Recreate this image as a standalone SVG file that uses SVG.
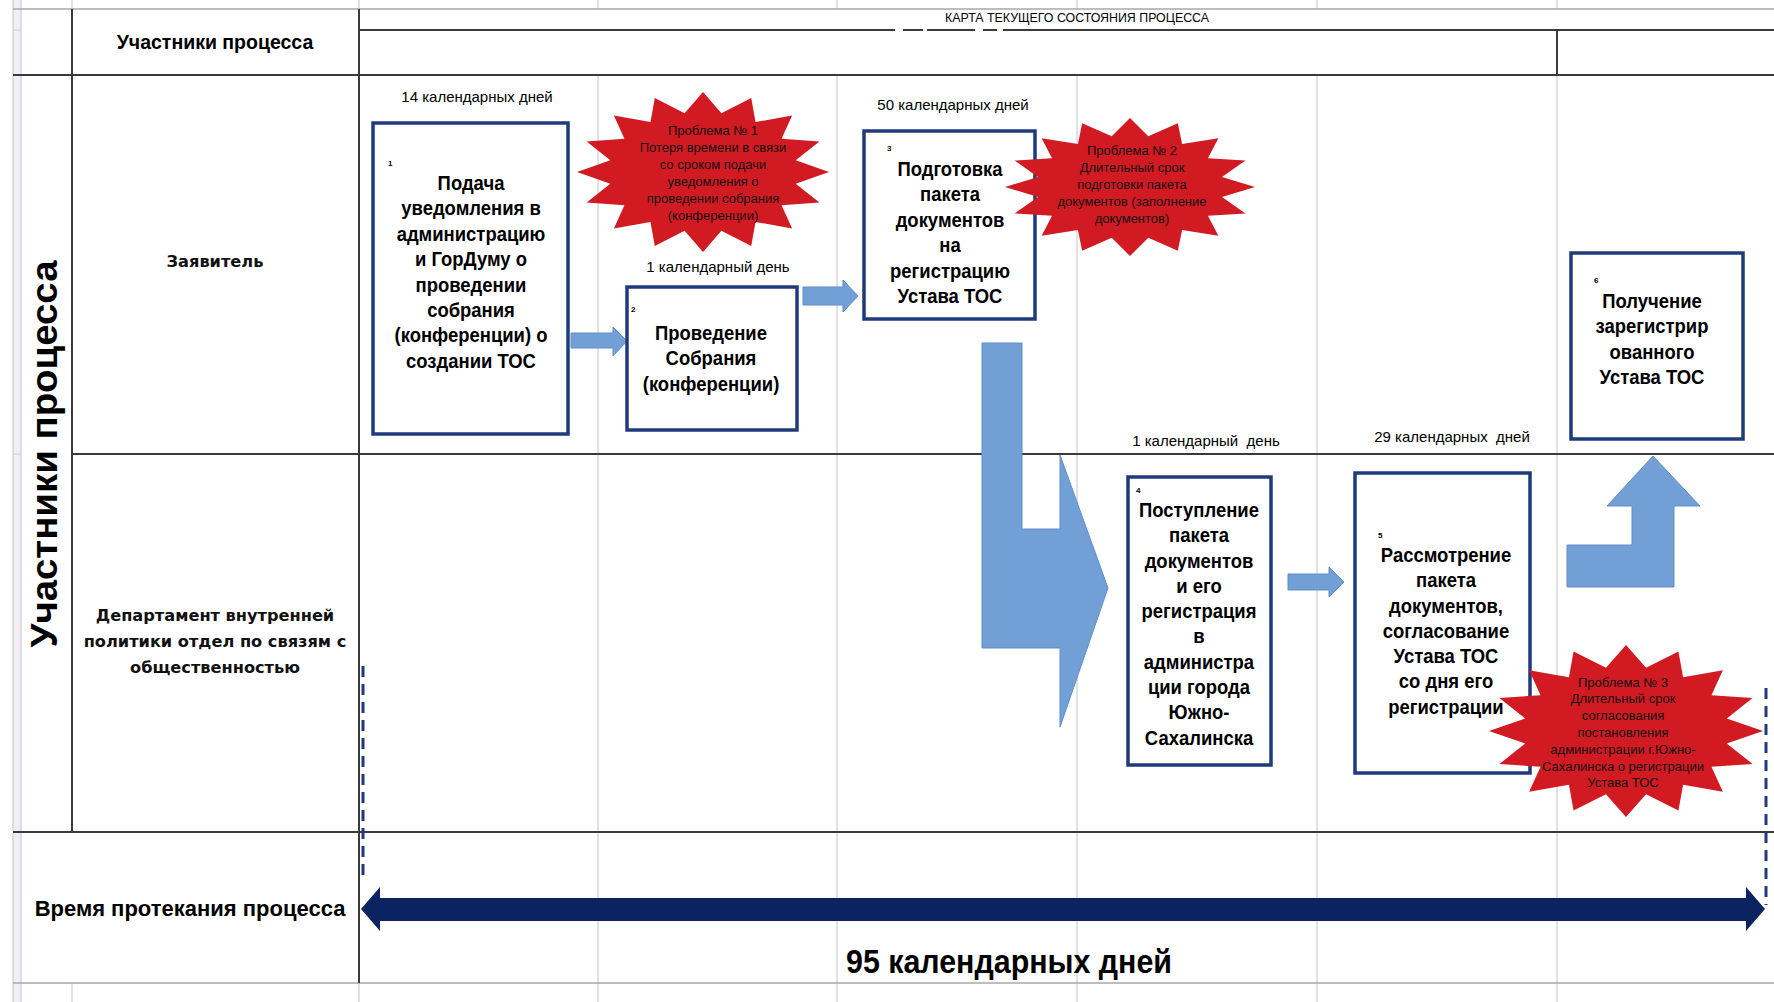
<svg xmlns="http://www.w3.org/2000/svg" width="1774" height="1002" viewBox="0 0 1774 1002">
<style>
.grid{stroke:#cdcdcd;stroke-width:1.2;fill:none}
.mid{stroke:#a8a8a8;stroke-width:1.5;fill:none}
.dark{stroke:#3a3a3a;stroke-width:2;fill:none}
.box{fill:#fff;stroke:#1f3b7c;stroke-width:3.5}
.bt{font-family:"Liberation Sans",Arial,sans-serif;font-weight:bold;font-size:20.5px;text-anchor:middle;fill:#000}
.num{font-family:"Liberation Sans",Arial,sans-serif;font-weight:bold;font-size:8px;fill:#000}
.day{font-family:"Liberation Sans",Arial,sans-serif;font-size:15px;text-anchor:middle;fill:#000}
.star{fill:#d11a22}
.st{font-family:"Liberation Sans",Arial,sans-serif;font-size:13px;text-anchor:middle;fill:#111}
.blk{fill:#72a0d6;stroke:#5e8fca;stroke-width:1}
.lane{font-family:"DejaVu Sans",Verdana,sans-serif;font-weight:bold;font-size:16.2px;text-anchor:middle;fill:#111}
.hdr{font-family:"Liberation Sans",Arial,sans-serif;font-weight:bold;text-anchor:middle;fill:#000}
.dash{stroke:#1f3b7c;stroke-width:3;stroke-dasharray:11 7;fill:none}
</style>
<defs>
<polygon id="star16" points="0,-100 14.63,-73.56 38.27,-92.39 41.67,-62.36 70.71,-70.71 62.36,-41.67 92.39,-38.27 73.56,-14.63 100,0 73.56,14.63 92.39,38.27 62.36,41.67 70.71,70.71 41.67,62.36 38.27,92.39 14.63,73.56 0,100 -14.63,73.56 -38.27,92.39 -41.67,62.36 -70.71,70.71 -62.36,41.67 -92.39,38.27 -73.56,14.63 -100,0 -73.56,-14.63 -92.39,-38.27 -62.36,-41.67 -70.71,-70.71 -41.67,-62.36 -38.27,-92.39 -14.63,-73.56"/>
</defs>
<rect width="1774" height="1002" fill="#fff"/>
<g id="grid">
<rect x="13" y="0" width="8" height="1002" fill="#f1eff5"/>
<path class="grid" d="M13 0V1002M21 0V1002M598 0V9M837 0V9M1077 0V9M1317 0V9M1557 0V9M598 75V1002M837 75V1002M1077 75V1002M1317 75V1002M1557 75V1002M72 0V9M72 983V1002M359 0V9M359 983V1002M13 30H21M13 454H21"/>
<path class="mid" d="M13 9H1774M13 983H1774"/>
<path class="dark" d="M72 9V832M359 9V983M1557 30V75M13 75H1774M72 454H1774M13 832H1774"/>
<path class="dark" d="M359 30H895M903 30H923M927 30H975M983 30H997M1003 30H1774"/>
<text class="hdr" x="215" y="49" font-size="19.5">Участники процесса</text>
<text font-family="Liberation Sans, Arial, sans-serif" font-size="12.5" x="945" y="22" textLength="264" lengthAdjust="spacingAndGlyphs">КАРТА ТЕКУЩЕГО СОСТОЯНИЯ ПРОЦЕССА</text>
<text class="hdr" font-size="36" transform="translate(57,454) rotate(-90)" textLength="387" lengthAdjust="spacingAndGlyphs">Участники процесса</text>
<text class="lane" x="215" y="267">Заявитель</text>
<text class="lane"><tspan x="215" y="620.5">Департамент внутренней</tspan><tspan x="215" y="647">политики отдел по связям с</tspan><tspan x="215" y="673">общественностью</tspan></text>
<text class="hdr" x="190" y="916" font-size="22">Время протекания процесса</text>
<text class="hdr" x="1009" y="973" font-size="34" textLength="326" lengthAdjust="spacingAndGlyphs">95 календарных дней</text>
</g>
<g id="timeline">
<path class="dash" d="M363 666V878M1766 688V905"/>
<polygon fill="#0b2461" points="361,909 380,887 380,898 1746,898 1746,887 1765,909 1746,931 1746,921 380,921 380,931"/>
</g>
<g id="connectors">
<polygon class="blk" points="571,333 613,333 613,327 627,341 613,356 613,348 571,348"/>
<polygon class="blk" points="803,287 843,287 843,280 858,296 843,312 843,305 803,305"/>
<polygon class="blk" points="982,343 1022,343 1022,529 1060,529 1060,455 1108,588 1060,727 1060,648 982,648"/>
<polygon class="blk" points="1288,574 1329,574 1329,567 1344,582 1329,597 1329,590 1288,590"/>
<polygon class="blk" points="1567,545 1632,545 1632,506 1607,506 1653,456 1700,506 1674,506 1674,587 1567,587"/>
</g>
<g id="labels">
<text class="day" x="477" y="102">14 календарных дней</text>
<text class="day" x="718" y="272">1 календарный день</text>
<text class="day" x="953" y="110">50 календарных дней</text>
<text class="day" x="1206" y="446" xml:space="preserve">1 календарный  день</text>
<text class="day" x="1452" y="442" xml:space="preserve">29 календарных  дней</text>
</g>
<g id="node1">
<rect class="box" x="373" y="123" width="195" height="311"/>
<text class="num" x="388" y="166">1</text>
<text class="bt" transform="translate(471,0) scale(0.9,1)"><tspan x="0" y="190">Подача</tspan><tspan x="0" y="215.4">уведомления в</tspan><tspan x="0" y="240.8">администрацию</tspan><tspan x="0" y="266.2">и ГорДуму о</tspan><tspan x="0" y="291.6">проведении</tspan><tspan x="0" y="317">собрания</tspan><tspan x="0" y="342.4">(конференции) о</tspan><tspan x="0" y="367.8">создании ТОС</tspan></text>
</g>
<g id="node2">
<rect class="box" x="627" y="287" width="170" height="143"/>
<text class="num" x="631" y="312">2</text>
<text class="bt" transform="translate(711,0) scale(0.9,1)"><tspan x="0" y="340">Проведение</tspan><tspan x="0" y="365.4">Собрания</tspan><tspan x="0" y="390.8">(конференции)</tspan></text>
</g>
<g id="node3">
<rect class="box" x="864" y="131" width="171" height="188"/>
<text class="num" x="887" y="151">3</text>
<text class="bt" transform="translate(950,0) scale(0.9,1)"><tspan x="0" y="176">Подготовка</tspan><tspan x="0" y="201.4">пакета</tspan><tspan x="0" y="226.8">документов</tspan><tspan x="0" y="252.2">на</tspan><tspan x="0" y="277.6">регистрацию</tspan><tspan x="0" y="303">Устава ТОС</tspan></text>
</g>
<g id="node4">
<rect class="box" x="1128" y="477" width="143" height="288"/>
<text class="num" x="1136" y="493">4</text>
<text class="bt" transform="translate(1199,0) scale(0.9,1)"><tspan x="0" y="517">Поступление</tspan><tspan x="0" y="542.3">пакета</tspan><tspan x="0" y="567.6">документов</tspan><tspan x="0" y="592.9">и его</tspan><tspan x="0" y="618.2">регистрация</tspan><tspan x="0" y="643.5">в</tspan><tspan x="0" y="668.8">администра</tspan><tspan x="0" y="694.1">ции города</tspan><tspan x="0" y="719.4">Южно-</tspan><tspan x="0" y="744.7">Сахалинска</tspan></text>
</g>
<g id="node5">
<rect class="box" x="1355" y="473" width="175" height="300"/>
<text class="num" x="1378" y="538">5</text>
<text class="bt" transform="translate(1446,0) scale(0.9,1)"><tspan x="0" y="562">Рассмотрение</tspan><tspan x="0" y="587.3">пакета</tspan><tspan x="0" y="612.6">документов,</tspan><tspan x="0" y="637.9">согласование</tspan><tspan x="0" y="663.2">Устава ТОС</tspan><tspan x="0" y="688.5">со дня его</tspan><tspan x="0" y="713.8">регистрации</tspan></text>
</g>
<g id="node6">
<rect class="box" x="1571" y="253" width="172" height="186"/>
<text class="num" x="1594" y="283">6</text>
<text class="bt" transform="translate(1652,0) scale(0.9,1)"><tspan x="0" y="308">Получение</tspan><tspan x="0" y="333.3">зарегистрир</tspan><tspan x="0" y="358.6">ованного</tspan><tspan x="0" y="383.9">Устава ТОС</tspan></text>
</g>
<g id="problem1">
<use href="#star16" class="star" transform="translate(703,172) scale(1.26,0.80)"/>
<text class="st"><tspan x="713" y="134.5">Проблема № 1</tspan><tspan x="713" y="151.5">Потеря времени в связи</tspan><tspan x="713" y="168.5">со сроком подачи</tspan><tspan x="713" y="185.5">уведомления о</tspan><tspan x="713" y="202.5">проведении собрания</tspan><tspan x="713" y="219.5">(конференции)</tspan></text>
</g>
<g id="problem2">
<use href="#star16" class="star" transform="translate(1130,187) scale(1.25,0.69)"/>
<text class="st"><tspan x="1132" y="154.5">Проблема № 2</tspan><tspan x="1132" y="171.5">Длительный срок</tspan><tspan x="1132" y="188.5">подготовки пакета</tspan><tspan x="1132" y="205.5">документов (заполнение</tspan><tspan x="1132" y="222.5">документов)</tspan></text>
</g>
<g id="problem3">
<use href="#star16" class="star" transform="translate(1626,731) scale(1.37,0.86)"/>
<text class="st"><tspan x="1623" y="686.5">Проблема № 3</tspan><tspan x="1623" y="703.3">Длительный срок</tspan><tspan x="1623" y="720.1">согласования</tspan><tspan x="1623" y="736.9">постановления</tspan><tspan x="1623" y="753.7">администрации г.Южно-</tspan><tspan x="1623" y="770.5">Сахалинска о регистрации</tspan><tspan x="1623" y="787.3">Устава ТОС</tspan></text>
</g>
</svg>
